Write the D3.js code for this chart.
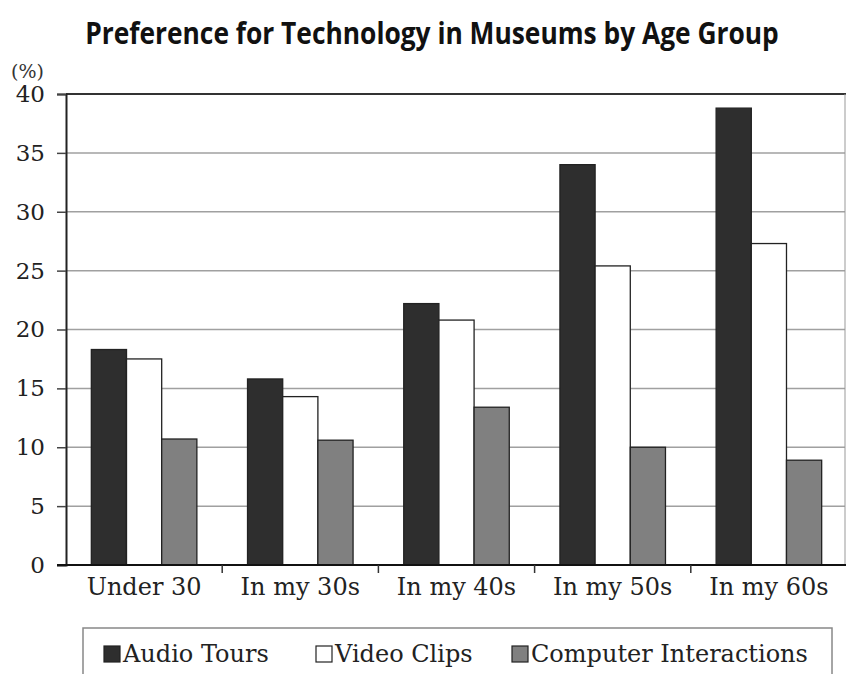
<!DOCTYPE html>
<html>
<head>
<meta charset="utf-8">
<script src="https://cdn.jsdelivr.net/npm/d3@7/dist/d3.min.js"></script>
<style>
  html, body { margin: 0; padding: 0; background: #fff; }
  svg { display: block; }
</style>
</head>
<body>
<svg id="chart" width="846" height="674"></svg>
<script>
const categories = ["Under 30", "In my 30s", "In my 40s", "In my 50s", "In my 60s"];
const seriesNames = ["Audio Tours", "Video Clips", "Computer Interactions"];
const audioTours = [18.3, 15.8, 22.2, 34.0, 38.8];
const videoClips = [17.5, 14.3, 20.8, 25.4, 27.3];
const computerInteractions = [10.7, 10.6, 13.4, 10.0, 8.9];
const yTicks = [0, 5, 10, 15, 20, 25, 30, 35, 40];
const colors = ["#2e2e2e", "#ffffff", "#808080"];

const series = [audioTours, videoClips, computerInteractions];
const svg = d3.select("#chart");
const mLeft = 66, mRight = 847, mTop = 94, mBottom = 565;
const serif = "'DejaVu Serif', serif";

const x = d3.scaleBand().domain(categories).range([mLeft, mRight]).paddingInner(0).paddingOuter(0);
const xs = d3.scaleBand().domain(seriesNames).range([0, x.bandwidth()]).paddingInner(0).paddingOuter(0.72);
const y = d3.scaleLinear().domain([0, 40]).range([mBottom, mTop]);

// title (condensed horizontally to match the reference width)
const titleG = svg.append("g");
const title = titleG.append("text").attr("x", 0).attr("y", 0).attr("text-anchor", "middle")
  .attr("font-family", "'Open Sans', sans-serif").attr("font-weight", 700).attr("font-size", 30)
  .attr("fill", "#111").text("Preference for Technology in Museums by Age Group");
const natural = title.node().getComputedTextLength() || 800;
titleG.attr("transform", `translate(432,44) scale(${694 / natural},1)`);

// unit
svg.append("text").attr("x", 11).attr("y", 78).attr("font-family", serif).attr("font-size", 19)
  .attr("fill", "#333").text("(%)");

// gridlines
svg.append("g").selectAll("line").data(yTicks.filter(d => d > 0 && d < 40)).join("line")
  .attr("x1", mLeft).attr("x2", 845).attr("y1", d => y(d)).attr("y2", d => y(d))
  .attr("stroke", "#a0a0a0").attr("stroke-width", 1.5);

// frame top and right
svg.append("line").attr("x1", mLeft).attr("x2", 846).attr("y1", y(40)).attr("y2", y(40))
  .attr("stroke", "#333").attr("stroke-width", 2);
svg.append("line").attr("x1", 845).attr("x2", 845).attr("y1", y(40)).attr("y2", mBottom)
  .attr("stroke", "#999").attr("stroke-width", 1);

// bars
const g = svg.append("g");
categories.forEach((c, i) => {
  series.forEach((s, j) => {
    g.append("rect")
      .attr("x", x(c) + xs(seriesNames[j]))
      .attr("y", y(s[i]))
      .attr("width", xs.bandwidth())
      .attr("height", y(0) - y(s[i]))
      .attr("fill", colors[j])
      .attr("stroke", "#222").attr("stroke-width", 1.3);
  });
});

// y axis
const yAxis = d3.axisLeft(y).tickValues(yTicks).tickSize(9).tickPadding(12).tickFormat(d3.format("d"));
const ya = svg.append("g").attr("transform", `translate(${mLeft},0)`).call(yAxis);
ya.select(".domain").attr("stroke", "#222").attr("stroke-width", 2);
ya.selectAll(".tick line").attr("stroke", "#444").attr("stroke-width", 1.5);
ya.selectAll(".tick text").attr("font-family", serif).attr("font-size", 23).attr("fill", "#222");

// x axis
const xa = svg.append("g").attr("transform", `translate(0,${mBottom})`)
  .call(d3.axisBottom(x).tickSize(0).tickPadding(13));
xa.select(".domain").remove();
xa.selectAll(".tick text").attr("font-family", serif).attr("font-size", 24).attr("fill", "#222");
svg.append("line").attr("x1", mLeft - 9).attr("x2", 846).attr("y1", mBottom).attr("y2", mBottom)
  .attr("stroke", "#111").attr("stroke-width", 2);
svg.append("g").selectAll("line").data(categories.slice(1)).join("line")
  .attr("x1", d => x(d)).attr("x2", d => x(d)).attr("y1", mBottom).attr("y2", mBottom + 8)
  .attr("stroke", "#333").attr("stroke-width", 1.5);

// legend
svg.append("rect").attr("x", 83).attr("y", 628).attr("width", 749).attr("height", 60)
  .attr("fill", "none").attr("stroke", "#888").attr("stroke-width", 1.5);
const legendX = [104, 316, 512];
seriesNames.forEach((n, j) => {
  svg.append("rect").attr("x", legendX[j]).attr("y", 646).attr("width", 16).attr("height", 16)
    .attr("fill", colors[j]).attr("stroke", "#222").attr("stroke-width", 1.2);
  svg.append("text").attr("x", legendX[j] + 19).attr("y", 662)
    .attr("font-family", serif).attr("font-size", 24).attr("fill", "#222").text(n);
});
</script>
</body>
</html>
